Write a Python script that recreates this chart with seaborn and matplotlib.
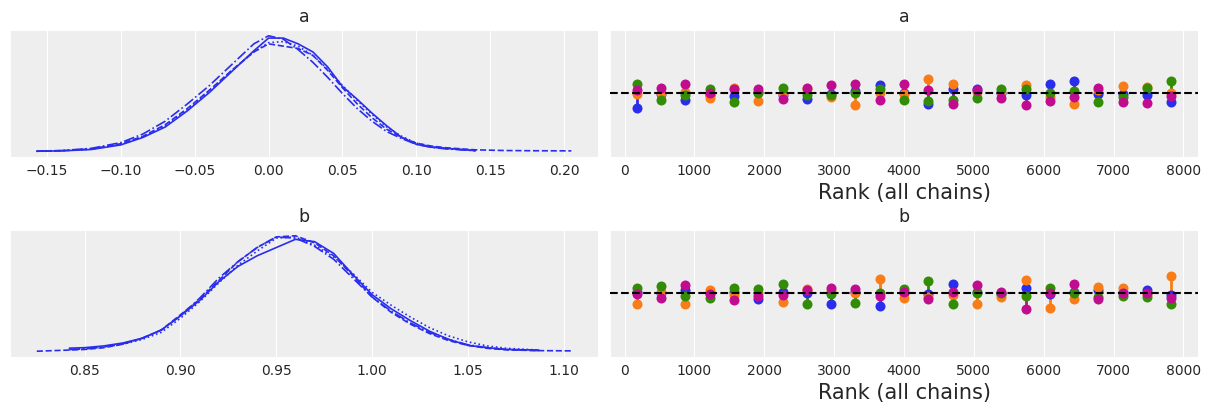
#%% Import modules

import numpy as np
import seaborn as sns
import matplotlib
matplotlib.use('Agg')
import matplotlib.pyplot as plt


#%% Data (4 chains, 2 variables)

var_names = ['a', 'b']
chain_colors = ['#2a2eec', '#fa7c17', '#328c06', '#c10c90']
chain_styles = ['-', '--', ':', '-.']

# density curves for "a" (relative height)
a_x = [-0.157, -0.14, -0.12, -0.10, -0.085, -0.07, -0.055, -0.04, -0.025, -0.01, 0.0,
       0.01, 0.02, 0.03, 0.04, 0.05, 0.06, 0.07, 0.08, 0.09, 0.10, 0.11, 0.12, 0.14]
a_x_long = a_x + [0.16, 0.18, 0.205]
a_dens_0 = [0.0, 0.003, 0.015, 0.055, 0.12, 0.21, 0.35, 0.51, 0.69, 0.87, 0.98,
            0.98, 0.93, 0.86, 0.73, 0.56, 0.45, 0.33, 0.22, 0.12, 0.06, 0.035, 0.025, 0.005]
a_dens_1 = [0.0, 0.005, 0.02, 0.065, 0.13, 0.23, 0.37, 0.53, 0.70, 0.86, 0.93,
            0.91, 0.89, 0.83, 0.70, 0.55, 0.41, 0.29, 0.19, 0.12, 0.07, 0.045, 0.03, 0.012,
            0.006, 0.004, 0.003]
a_dens_2 = [0.0, 0.004, 0.018, 0.06, 0.125, 0.22, 0.36, 0.52, 0.70, 0.86, 0.94,
            0.95, 0.91, 0.83, 0.71, 0.57, 0.44, 0.32, 0.21, 0.13, 0.07, 0.04, 0.025, 0.005]
a_dens_3 = [0.0, 0.006, 0.025, 0.075, 0.15, 0.26, 0.41, 0.57, 0.75, 0.93, 1.0,
            0.97, 0.88, 0.77, 0.64, 0.50, 0.37, 0.26, 0.17, 0.11, 0.06, 0.035, 0.02, 0.005]

# density curves for "b"
b_x = [0.842, 0.85, 0.86, 0.87, 0.88, 0.89, 0.90, 0.91, 0.92, 0.93, 0.94, 0.95, 0.96,
       0.97, 0.98, 0.99, 1.00, 1.01, 1.02, 1.03, 1.04, 1.05, 1.06, 1.07, 1.087]
b_x_long = [0.825] + b_x + [1.104]
b_dens_0 = [0.026, 0.03, 0.045, 0.07, 0.11, 0.18, 0.30, 0.43, 0.59, 0.72, 0.81, 0.88, 0.95,
            0.93, 0.83, 0.65, 0.48, 0.36, 0.26, 0.17, 0.10, 0.05, 0.03, 0.015, 0.01]
b_dens_1 = [0.0, 0.01, 0.015, 0.03, 0.06, 0.11, 0.18, 0.31, 0.44, 0.60, 0.76, 0.88, 0.97, 0.98,
            0.92, 0.81, 0.64, 0.46, 0.33, 0.23, 0.15, 0.09, 0.05, 0.025, 0.012, 0.005, 0.003]
b_dens_2 = [0.015, 0.02, 0.035, 0.06, 0.10, 0.16, 0.28, 0.42, 0.58, 0.73, 0.85, 0.96, 0.97,
            0.90, 0.80, 0.66, 0.50, 0.39, 0.29, 0.20, 0.13, 0.08, 0.045, 0.025, 0.01]
b_dens_3 = [0.015, 0.02, 0.04, 0.065, 0.11, 0.18, 0.30, 0.45, 0.62, 0.76, 0.88, 0.97, 0.96,
            0.89, 0.78, 0.62, 0.46, 0.34, 0.24, 0.16, 0.10, 0.055, 0.03, 0.015, 0.005]

# rank histogram bins (8000 draws, 23 bins) and per-chain deviation from uniform
rank_bins = [174, 522, 870, 1217, 1565, 1913, 2261, 2609, 2957, 3304, 3652, 4000,
             4348, 4696, 5043, 5391, 5739, 6087, 6435, 6783, 7130, 7478, 7826]
a_rank_0 = [-15, -1, -7, -2, -3, 1, -2, -6, -1, 2, 8, 0, -11, 4, 4, 0, -2, 9, 12, -1, -1, -2, -9]
a_rank_1 = [-1, 0, 1, -5, 5, -8, -1, 4, -4, -12, 0, -1, 14, 9, 1, 1, 8, -4, -11, 3, 7, 6, 0]
a_rank_2 = [9, -7, -2, 4, -9, 0, 5, -2, -2, 0, 4, -7, -8, -7, -5, 4, 4, 0, 2, -9, -4, 5, 12]
a_rank_3 = [3, 5, 9, 0, 4, 4, -6, 5, 8, 9, -7, 9, 3, -11, 3, -5, -12, -8, -4, 5, -9, -10, -3]
b_rank_0 = [1, 0, 3, 0, 1, -6, 1, 0, -11, 1, -13, 0, -1, 9, 1, -1, 5, -1, 1, 3, 1, 3, -2]
b_rank_1 = [-11, 1, -11, 3, -2, 0, -9, 4, 2, 0, 14, -5, -4, -2, -11, -4, 13, -15, -6, 6, 5, -1, 17]
b_rank_2 = [5, 7, -3, -5, 5, 4, 9, -11, -1, -10, 0, 4, 12, -11, 0, 0, -3, 5, 0, -4, -3, -4, -11]
b_rank_3 = [-1, -5, 8, -1, -7, -3, -2, 3, 5, 4, -3, 1, -6, 1, 8, 1, -16, 0, 9, -6, 0, 0, -5]

dens_x = {'a': [a_x, a_x_long, a_x, a_x], 'b': [b_x, b_x_long, b_x, b_x]}
dens_y = {'a': [a_dens_0, a_dens_1, a_dens_2, a_dens_3],
          'b': [b_dens_0, b_dens_1, b_dens_2, b_dens_3]}
ranks = {'a': [a_rank_0, a_rank_1, a_rank_2, a_rank_3],
         'b': [b_rank_0, b_rank_1, b_rank_2, b_rank_3]}


#%% Style

sns.set_style('darkgrid', {'axes.facecolor': '#eeeeee', 'grid.color': 'white',
                           'axes.edgecolor': 'white', 'text.color': '.15',
                           'xtick.color': '.15', 'axes.labelcolor': '.15'})
plt.rcParams['font.family'] = ['DejaVu Sans']
plt.rcParams['xtick.labelsize'] = 10
plt.rcParams['xtick.major.size'] = 0
plt.rcParams['xtick.major.pad'] = 5
plt.rcParams['axes.titlesize'] = 12.5
plt.rcParams['axes.labelsize'] = 15


#%% Trace plot: density on the left, rank vlines on the right

fig, axes = plt.subplots(2, 2, figsize=(12.11, 4.11), dpi=100)
fig.subplots_adjust(left=0.0083, right=0.9893, top=0.927, bottom=0.1314,
                    wspace=0.0204, hspace=0.575)

for row, var in enumerate(var_names):
    ax_d = axes[row, 0]
    for i in range(4):
        sns.lineplot(x=dens_x[var][i], y=dens_y[var][i], color=chain_colors[0],
                     linestyle=chain_styles[i], linewidth=1.2, ax=ax_d)
    ax_d.set_yticks([])
    ax_d.set_title(var)
    ax_d.set_xlabel('')
    ax_d.set_ylabel('')

    ax_r = axes[row, 1]
    for i in range(4):
        ax_r.vlines(rank_bins, 0, ranks[var][i], colors=chain_colors[i], lw=2, zorder=2)
        sns.scatterplot(x=rank_bins, y=ranks[var][i], color=chain_colors[i], s=52,
                        linewidth=0, zorder=3, ax=ax_r)
    ax_r.axhline(0, color='k', ls='--', lw=1.5, zorder=4)
    ax_r.set_ylim(-64, 63)
    ax_r.set_yticks([])
    ax_r.set_title(var)
    ax_r.set_xlabel('Rank (all chains)')
    ax_r.set_ylabel('')

plt.savefig('out.png', dpi=100)
